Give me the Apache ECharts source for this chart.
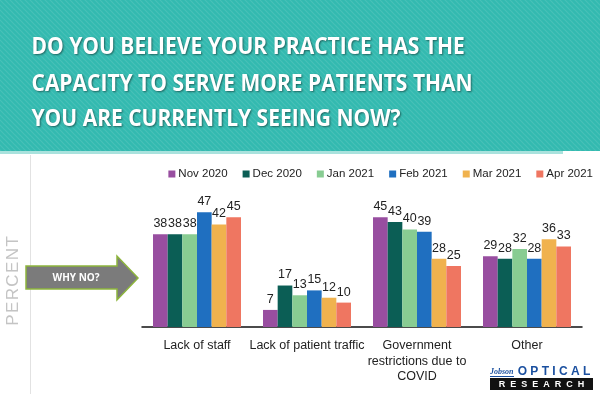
<!DOCTYPE html>
<html>
<head>
<meta charset="utf-8">
<script src="https://cdn.jsdelivr.net/npm/echarts@6/dist/echarts.min.js"></script>
<style>html,body{margin:0;padding:0;background:#fff}#c{width:600px;height:394px}</style>
</head>
<body>
<div id="c"></div>
<script>
var categories = ['Lack of staff', 'Lack of patient traffic', 'Government\nrestrictions due to\nCOVID', 'Other'];
var seriesNames = ['Nov 2020', 'Dec 2020', 'Jan 2021', 'Feb 2021', 'Mar 2021', 'Apr 2021'];
var nov2020 = [38, 7, 45, 29];
var dec2020 = [38, 17, 43, 28];
var jan2021 = [38, 13, 40, 32];
var feb2021 = [47, 15, 39, 28];
var mar2021 = [42, 12, 28, 36];
var apr2021 = [45, 10, 25, 33];
var seriesValues = [nov2020, dec2020, jan2021, feb2021, mar2021, apr2021];
var colors = ['#984EA0', '#0B5E55', '#88CC92', '#1F6FC0', '#F0B24E', '#EF7661'];
var titleLines = ['DO YOU BELIEVE YOUR PRACTICE HAS THE', 'CAPACITY TO SERVE MORE PATIENTS THAN', 'YOU ARE CURRENTLY SEEING NOW?'];

// stripe pattern for header
var pc = document.createElement('canvas');
pc.width = 5; pc.height = 5;
var pctx = pc.getContext('2d');
pctx.fillStyle = '#33bab0';
pctx.fillRect(0, 0, 5, 5);
pctx.strokeStyle = 'rgba(255,255,255,0.10)';
pctx.lineWidth = 1.2;
pctx.beginPath();
pctx.moveTo(-1, -1); pctx.lineTo(6, 6);
pctx.moveTo(-4, 1); pctx.lineTo(1, 6);
pctx.moveTo(1, -4); pctx.lineTo(6, 1);
pctx.stroke();

var chart = echarts.init(document.getElementById('c'), null, {renderer: 'canvas'});
var chartFont = 'Liberation Sans, Arial, sans-serif';

var graphics = [
  {type: 'rect', shape: {x: 0, y: 0, width: 600, height: 151}, style: {fill: {image: pc, repeat: 'repeat'}}, z: 0},
  {type: 'rect', shape: {x: 0, y: 151, width: 563, height: 3}, style: {fill: '#a9e2dd'}, z: 0},
  {type: 'rect', shape: {x: 30, y: 155, width: 1, height: 239}, style: {fill: '#e2e2e2'}, z: 0},
  {type: 'text', x: 13, y: 281, rotation: Math.PI / 2,
    style: {text: 'P\u200AE\u200AR\u200AC\u200AE\u200AN\u200AT', fill: '#c4c4c4', font: '17px Liberation Sans, Arial, sans-serif', textAlign: 'center', textVerticalAlign: 'middle'}, z: 2},
  {type: 'polygon', shape: {points: [[26, 266], [117, 266], [117, 256], [138, 278], [117, 300], [117, 289], [26, 289]]},
    style: {fill: '#7b7b7b', stroke: '#8db53c', lineWidth: 1.5}, z: 3},
  {type: 'text', x: 76, y: 278, style: {text: 'WHY NO?', fill: '#ffffff', font: 'bold 10px Open Sans, sans-serif', textAlign: 'center', textVerticalAlign: 'middle'}, z: 4},
  // logo
  {type: 'text', x: 490, y: 372, style: {text: 'Jobson', fill: '#1a4f9f', font: 'italic bold 8px Liberation Serif, serif', textAlign: 'left', textVerticalAlign: 'middle'}, z: 4},
  {type: 'rect', shape: {x: 490, y: 376, width: 24, height: 1}, style: {fill: '#1a4f9f'}, z: 4},
  {type: 'text', x: 554, y: 372, style: {text: 'O P T I C A L', fill: '#1a4f9f', font: 'bold 12px Liberation Sans, Arial, sans-serif', textAlign: 'center', textVerticalAlign: 'middle'}, z: 4},
  {type: 'rect', shape: {x: 490, y: 378, width: 103, height: 12}, style: {fill: '#111111'}, z: 4},
  {type: 'text', x: 541.5, y: 384.5, style: {text: 'R  E  S  E  A  R  C  H', fill: '#ffffff', font: 'bold 9px Liberation Sans, Arial, sans-serif', textAlign: 'center', textVerticalAlign: 'middle'}, z: 5}
];
var titleY = [47, 84, 119];
titleLines.forEach(function (t, i) {
  graphics.push({type: 'text', x: 28, y: titleY[i], scaleX: 0.875, originX: 28,
    style: {text: t, fill: '#ffffff', font: 'bold 24px Open Sans, sans-serif', textAlign: 'left', textVerticalAlign: 'middle',
      textShadowColor: 'rgba(0,0,0,0.45)', textShadowBlur: 2, textShadowOffsetX: 1, textShadowOffsetY: 1.5}, z: 2});
});

var option = {
  animation: false,
  backgroundColor: '#ffffff',
  color: colors,
  legend: {
    data: seriesNames, right: 2, top: 163, itemWidth: 7, itemHeight: 7, itemGap: 15,
    icon: 'rect', textStyle: {fontFamily: 'Liberation Sans, Arial, sans-serif', fontSize: 11.5, color: '#222', padding: [0, 0, 0, -2]}
  },
  grid: {left: 142, right: 18, top: 205, bottom: 67, containLabel: false},
  xAxis: {
    type: 'category', data: categories,
    axisLine: {lineStyle: {color: '#111', width: 1.5}},
    axisTick: {show: false},
    axisLabel: {fontFamily: chartFont, fontSize: 12.5, color: '#222', margin: 11, lineHeight: 15.5, interval: 0}
  },
  yAxis: {type: 'value', min: 0, max: 50, show: false, splitLine: {show: false}},
  graphic: graphics,
  series: seriesNames.map(function (n, i) {
    return {
      name: n, type: 'bar', data: seriesValues[i], barGap: '0%', barCategoryGap: '20%',
      label: {show: true, position: 'top', distance: 4, fontFamily: chartFont, fontSize: 12.5, color: '#222'}
    };
  })
};
chart.setOption(option);
</script>
</body>
</html>
